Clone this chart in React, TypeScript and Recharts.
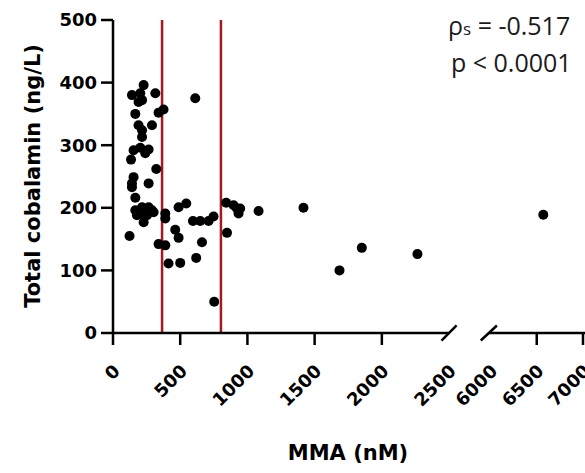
import { ScatterChart, Scatter, XAxis, YAxis, ReferenceLine, Customized } from 'recharts'

// MMA (nM) vs total cobalamin (ng/L)
const mmaValues = [
  228, 141, 203, 216, 315, 190, 612, 376, 339, 166,
  190, 290, 216, 216, 153, 203, 265, 240, 134, 322,
  153, 141, 141, 265, 166, 166, 178, 216, 265, 302,
  228, 203, 253, 290, 123, 389, 389, 339, 389, 413,
  500, 463, 488, 488, 545, 595, 649, 711, 748, 662,
  619, 753, 842, 848, 897, 922, 946, 934, 1083, 1417,
  1685, 1851, 2265, 6571,
]
const cobalaminValues = [
  396, 380, 383, 372, 383, 369, 375, 357, 352, 350,
  332, 332, 324, 313, 292, 296, 293, 287, 277, 262,
  249, 239, 233, 239, 216, 196, 188, 201, 201, 193,
  177, 191, 188, 196, 155, 191, 183, 142, 140, 111,
  112, 165, 152, 201, 207, 179, 179, 179, 186, 145,
  120, 50, 208, 160, 204, 199, 199, 191, 195, 200,
  100, 136, 126, 189,
]
const xTickValues = [0, 500, 1000, 1500, 2000, 2500, 6000, 6500, 7000]
const yTickValues = [0, 100, 200, 300, 400, 500]
const cutoffs = [365, 803]

// broken x axis: 0-2500 then 6000-7000 on a tighter scale
const SEG1_END = 2500
const SEG2_START = 6000
const SEG2_OFFSET = 2808
const SEG2_RATIO = 0.6885
const toAxis = (v: number) => (v <= SEG1_END ? v : SEG2_OFFSET + (v - SEG2_START) * SEG2_RATIO)
const X_MAX = toAxis(7000)

const points = mmaValues.map((m, i) => ({ d: toAxis(m), mma: m, cbl: cobalaminValues[i] }))

const BOLD = 'DejaVu Sans'

function XTick(props: any) {
  const { x, y, payload } = props
  const raw = xTickValues.find(v => Math.abs(toAxis(v) - payload.value) < 0.01) ?? payload.value
  const isBreak = raw === SEG1_END || raw === SEG2_START
  const ax = x + 3.5
  const ay = y + 34.5
  return (
    <g>
      {!isBreak && <line x1={x} y1={y} x2={x} y2={y + 12} stroke="#000" strokeWidth={2.5} />}
      <text x={ax} y={ay} transform={`rotate(-45, ${ax}, ${ay})`} textAnchor="end" dominantBaseline="central"
        fontFamily={BOLD} fontWeight="bold" fontSize={18} fill="#000">
        {raw}
      </text>
    </g>
  )
}

function Texts() {
  return (
    <g>
      <text x={0} y={0} transform="translate(40,176) rotate(-90)" textAnchor="middle"
        fontFamily={BOLD} fontWeight="bold" fontSize={21} fill="#000">Total cobalamin (ng/L)</text>
      <text x={348} y={460} textAnchor="middle" fontFamily={BOLD} fontWeight="bold" fontSize={21} fill="#000">MMA (nM)</text>
      <text x={448} y={35} fontFamily="Open Sans" fontSize={25} fill="#1a1a1a">
        <tspan>ρ</tspan><tspan fontSize={17}>s</tspan><tspan> = -0.517</tspan>
      </text>
      <text x={451} y={72} fontFamily="Open Sans" fontSize={25} fill="#1a1a1a">p &lt; 0.0001</text>
    </g>
  )
}

export default function App() {
  const brk1 = toAxis(SEG1_END)
  const brk2 = toAxis(SEG2_START) - 12
  return (
    <div style={{ position: 'absolute', left: 0, top: 0, background: '#fff' }}>
      <ScatterChart width={585} height={473} margin={{ top: 20, right: 2, bottom: 20, left: 0 }}>
        <XAxis type="number" dataKey="d" domain={[0, X_MAX]} ticks={xTickValues.map(toAxis)} interval={0}
          axisLine={false} tickLine={false} tickSize={0} tickMargin={0} height={120} tick={<XTick />} allowDataOverflow />
        <YAxis type="number" dataKey="cbl" domain={[0, 500]} ticks={yTickValues} interval={0} width={113}
          tickSize={12} tickMargin={4} axisLine={{ stroke: '#000', strokeWidth: 2.5 }}
          tickLine={{ stroke: '#000', strokeWidth: 2.5 }}
          tick={{ fill: '#000', fontSize: 18, fontWeight: 'bold', fontFamily: BOLD }} />
        {cutoffs.map(c => (
          <ReferenceLine key={c} x={c} stroke="#a3191f" strokeWidth={2.5} />
        ))}
        <ReferenceLine segment={[{ x: 0, y: 0 }, { x: brk1, y: 0 }]} stroke="#000" strokeWidth={2.5} ifOverflow="visible" />
        <ReferenceLine segment={[{ x: brk1 - 56, y: -12 }, { x: brk1 + 56, y: 12 }]} stroke="#000" strokeWidth={2.5} ifOverflow="visible" />
        <ReferenceLine segment={[{ x: brk2 - 60, y: -12 }, { x: brk2 + 60, y: 12 }]} stroke="#000" strokeWidth={2.5} ifOverflow="visible" />
        <ReferenceLine segment={[{ x: brk2, y: 0 }, { x: X_MAX + 20, y: 0 }]} stroke="#000" strokeWidth={2.5} ifOverflow="visible" />
        <Scatter data={points} isAnimationActive={false}
          shape={(p: any) => <circle cx={p.cx} cy={p.cy} r={5} fill="#000" />} />
        <Customized component={<Texts />} />
      </ScatterChart>
    </div>
  )
}
